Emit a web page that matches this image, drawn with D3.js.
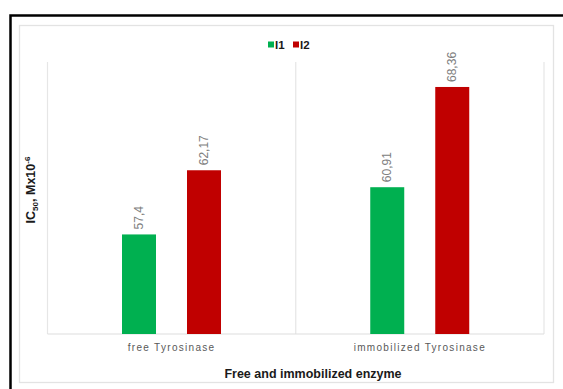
<!DOCTYPE html>
<html><head><meta charset="utf-8">
<script src="https://cdn.jsdelivr.net/npm/d3@7"></script>
<style>body{margin:0;background:#fff}svg{display:block;font-family:"Liberation Sans",Arial,sans-serif}</style>
</head><body><svg id="c" width="563" height="389"></svg>
<script>
const categories = ["free Tyrosinase", "immobilized Tyrosinase"];
const seriesNames = ["I1", "I2"];
const seriesColors = ["#00b050", "#c00000"];
const valuesI1 = [57.4, 60.91];
const valuesI2 = [62.17, 68.36];
const valueLabelsI1 = ["57,4", "60,91"];
const valueLabelsI2 = ["62,17", "68,36"];
const yDomain = [50, 72];

const svg = d3.select("#c");
// outer black frame
svg.append("rect").attr("x",10.5).attr("y",15.5).attr("width",560).attr("height",380)
  .attr("fill","none").attr("stroke","#000").attr("stroke-width",2.5);
// inner chart border
svg.append("rect").attr("x",19.5).attr("y",25.5).attr("width",534).attr("height",357)
  .attr("fill","none").attr("stroke","#e3e3e3").attr("stroke-width",1.3);

const plot = {left:47.5, right:544, top:38, bottom:334};
const x0 = d3.scaleBand().domain(categories).range([plot.left, plot.right]).padding(0);
const x1 = d3.scaleBand().domain(seriesNames).range([74.5, 74.5+99]).paddingInner(0.477);
const y = d3.scaleLinear().domain(yDomain).range([plot.bottom, plot.top]);

// category separators
const seps = [plot.left, ...categories.map(c=>x0(c)+x0.bandwidth())];
svg.selectAll("line.sep").data(seps).enter().append("line")
  .attr("x1",d=>d).attr("x2",d=>d).attr("y1",62).attr("y2",plot.bottom)
  .attr("stroke","#e6e6e6").attr("stroke-width",1.2);
svg.append("line").attr("x1",plot.left).attr("x2",plot.right).attr("y1",plot.bottom).attr("y2",plot.bottom)
  .attr("stroke","#dedede").attr("stroke-width",1.2);

const data = [];
categories.forEach((c,i)=>{
  data.push({cat:c, s:"I1", v:valuesI1[i], lab:valueLabelsI1[i], col:seriesColors[0]});
  data.push({cat:c, s:"I2", v:valuesI2[i], lab:valueLabelsI2[i], col:seriesColors[1]});
});
svg.selectAll("rect.bar").data(data).enter().append("rect")
  .attr("x",d=>x0(d.cat)+x1(d.s)).attr("width",x1.bandwidth())
  .attr("y",d=>y(d.v)).attr("height",d=>plot.bottom-y(d.v)).attr("fill",d=>d.col);
svg.selectAll("text.val").data(data).enter().append("text")
  .attr("transform",d=>`translate(${x0(d.cat)+x1(d.s)+x1.bandwidth()/2},${y(d.v)-5}) rotate(-90)`)
  .attr("dy","0.35em").attr("font-size",12).attr("fill","#808080").text(d=>d.lab);

// category labels
svg.selectAll("text.cat").data(categories).enter().append("text")
  .attr("x",d=>x0(d)+x0.bandwidth()/2).attr("y",351).attr("text-anchor","middle")
  .attr("font-size",10).attr("letter-spacing","1.3px").attr("fill","#595959").text(d=>d);

// x title
svg.append("text").attr("x",313).attr("y",378).attr("text-anchor","middle")
  .attr("font-size",12.5).attr("font-weight","bold").attr("fill","#1a1a1a").text("Free and immobilized enzyme");

// y title
const yt = svg.append("text").attr("transform","translate(35,190) rotate(-90)").attr("text-anchor","middle")
  .attr("font-size",12.5).attr("font-weight","bold").attr("fill","#1a1a1a");
yt.append("tspan").text("IC");
yt.append("tspan").attr("font-size",8).attr("dy",3).text("50");
yt.append("tspan").attr("dy",-3).text(", Mx10");
yt.append("tspan").attr("font-size",8).attr("dy",-5).text("-6");

// legend
const leg = [{x:268,name:seriesNames[0],col:seriesColors[0]},{x:293,name:seriesNames[1],col:seriesColors[1]}];
leg.forEach(l=>{
  svg.append("rect").attr("x",l.x).attr("y",41.5).attr("width",6).attr("height",6).attr("fill",l.col);
  svg.append("text").attr("x",l.x+7).attr("y",48.5).attr("font-size",11.5).attr("font-weight","bold")
    .attr("fill","#1a1a1a").text(l.name);
});
</script></body></html>
